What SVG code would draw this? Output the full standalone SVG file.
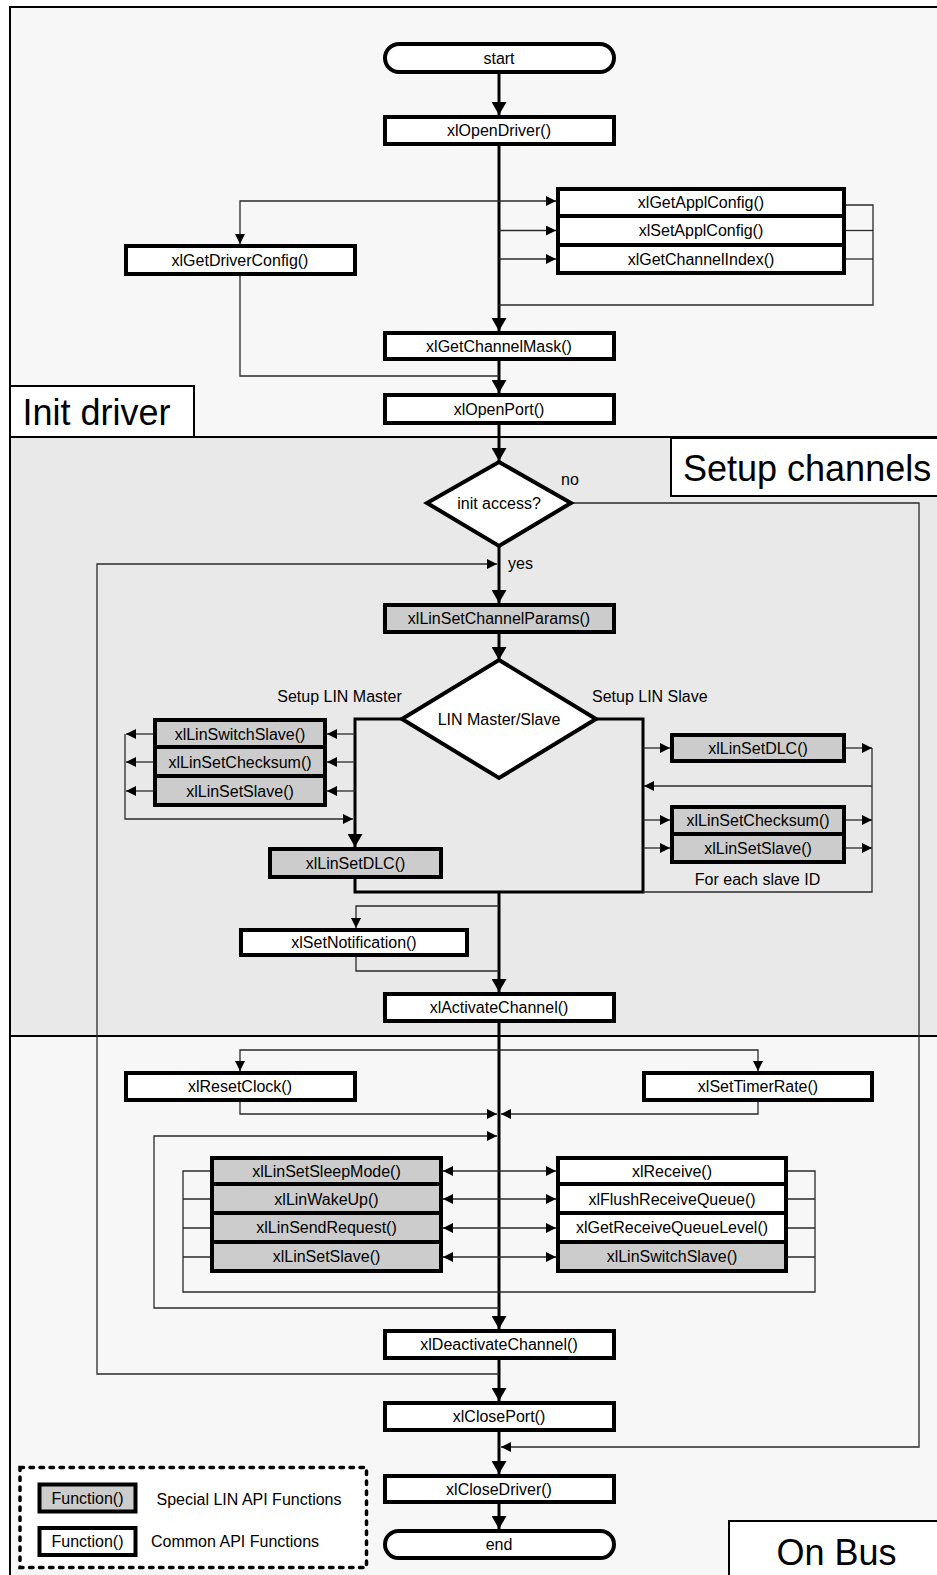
<svg xmlns="http://www.w3.org/2000/svg" width="937" height="1575" viewBox="0 0 937 1575">
<style>
text{font-family:"Liberation Sans",Arial,sans-serif;font-size:16px;fill:#000}
.c{text-anchor:middle}
.big{font-size:36px}
.box{fill:#fff;stroke:#000;stroke-width:4}
.lin{fill:#cccccc;stroke:#000;stroke-width:4}
.sec{stroke:#000;stroke-width:2}
.thick{fill:none;stroke:#000;stroke-width:3}
.thin{fill:none;stroke:#2a2a2a;stroke-width:1.3}
</style>
<defs>
<marker id="ab" viewBox="0 0 13 15" refX="13" refY="7.5" markerWidth="13" markerHeight="15" markerUnits="userSpaceOnUse" orient="auto"><path d="M0,0 L13,7.5 L0,15 z" fill="#000"/></marker>
<marker id="as" viewBox="0 0 10 10" refX="10" refY="5" markerWidth="10" markerHeight="10" markerUnits="userSpaceOnUse" orient="auto-start-reverse"><path d="M0,0 L10,5 L0,10 z" fill="#000"/></marker>
</defs>

<g id="sections">
<rect x="10" y="7" width="940" height="430" fill="#f7f7f7" class="sec"/>
<rect x="10" y="437" width="940" height="599" fill="#e9e9e9" class="sec"/>
<rect x="10" y="1036" width="940" height="560" fill="#f7f7f7" class="sec"/>
</g>

<g id="connectors">
<!-- main thick flow -->
<path class="thick" d="M499,74 V115" marker-end="url(#ab)"/>
<path class="thick" d="M499,146 V331" marker-end="url(#ab)"/>
<path class="thick" d="M499,361 V393" marker-end="url(#ab)"/>
<path class="thick" d="M499,425 V461" marker-end="url(#ab)"/>
<path class="thick" d="M499,546 V603" marker-end="url(#ab)"/>
<path class="thick" d="M499,634 V660" marker-end="url(#ab)"/>
<path class="thick" d="M402,719 H355 V847" marker-end="url(#ab)"/>
<path class="thick" d="M596,719 H643 V892 H355 V879"/>
<path class="thick" d="M499,892 V992" marker-end="url(#ab)"/>
<path class="thick" d="M499,1023 V1329" marker-end="url(#ab)"/>
<path class="thick" d="M499,1360 V1401" marker-end="url(#ab)"/>
<path class="thick" d="M499,1432 V1474" marker-end="url(#ab)"/>
<path class="thick" d="M499,1504 V1529" marker-end="url(#ab)"/>

<!-- init driver branches -->
<path class="thin" d="M499,201 H240 V244" marker-end="url(#as)"/>
<path class="thin" d="M499,201 H556" marker-end="url(#as)"/>
<path class="thin" d="M499,230.5 H556" marker-end="url(#as)"/>
<path class="thin" d="M499,259 H556" marker-end="url(#as)"/>
<path class="thin" d="M846,205 H873 V305 H499"/>
<path class="thin" d="M846,230.5 H873"/>
<path class="thin" d="M846,259 H873"/>
<path class="thin" d="M240,276 V376 H499"/>

<!-- no / yes loops -->
<path class="thin" d="M571,503 H919 V1447 H501" marker-end="url(#as)"/>
<path class="thin" d="M499,1374 H97 V564 H497" marker-end="url(#as)"/>

<!-- master side -->
<path class="thin" d="M355,734 H327" marker-end="url(#as)"/>
<path class="thin" d="M355,762 H327" marker-end="url(#as)"/>
<path class="thin" d="M355,791 H327" marker-end="url(#as)"/>
<path class="thin" d="M153,734 H126" marker-end="url(#as)"/>
<path class="thin" d="M153,762 H126" marker-end="url(#as)"/>
<path class="thin" d="M153,791 H126" marker-end="url(#as)"/>
<path class="thin" d="M125,734 V819 H353" marker-end="url(#as)"/>

<!-- slave side -->
<path class="thin" d="M643,748 H670" marker-end="url(#as)"/>
<path class="thin" d="M846,748 H872" marker-end="url(#as)"/>
<path class="thin" d="M872,748 V892 H643"/>
<path class="thin" d="M872,786 H644" marker-end="url(#as)"/>
<path class="thin" d="M643,820 H670" marker-end="url(#as)"/>
<path class="thin" d="M643,848 H670" marker-end="url(#as)"/>
<path class="thin" d="M846,820 H872" marker-end="url(#as)"/>
<path class="thin" d="M846,848 H872" marker-end="url(#as)"/>

<!-- notification -->
<path class="thin" d="M499,906 H356 V928" marker-end="url(#as)"/>
<path class="thin" d="M356,957 V971 H499"/>

<!-- on bus -->
<path class="thin" d="M499,1050 H240 V1071" marker-end="url(#as)"/>
<path class="thin" d="M499,1050 H758 V1071" marker-end="url(#as)"/>
<path class="thin" d="M240,1102 V1114 H497" marker-end="url(#as)"/>
<path class="thin" d="M758,1102 V1114 H501" marker-end="url(#as)"/>
<path class="thin" d="M499,1308 H154 V1136 H497" marker-end="url(#as)"/>
<path class="thin" d="M210,1171 H183 V1292 H815 V1171 H788"/>
<path class="thin" d="M210,1199 H183 M210,1228 H183 M210,1257 H183"/>
<path class="thin" d="M788,1199 H815 M788,1228 H815 M788,1257 H815"/>
<path class="thin" d="M443,1171 H556" marker-start="url(#as)" marker-end="url(#as)"/>
<path class="thin" d="M443,1199 H556" marker-start="url(#as)" marker-end="url(#as)"/>
<path class="thin" d="M443,1228 H556" marker-start="url(#as)" marker-end="url(#as)"/>
<path class="thin" d="M443,1257 H556" marker-start="url(#as)" marker-end="url(#as)"/>
</g>

<g id="label-init-driver"><rect x="10" y="386" width="184" height="51" fill="#fff" class="sec"/><text class="big" x="22.5" y="424.5">Init driver</text></g>
<g id="label-setup-channels"><rect x="671" y="438" width="280" height="58" fill="#fff" class="sec"/><text class="big" x="683" y="481">Setup channels</text></g>
<g id="label-on-bus"><rect x="729" y="1521" width="230" height="70" fill="#fff" class="sec"/><text class="big" x="776.5" y="1565">On Bus</text></g>

<g id="start"><rect x="385" y="44" width="229" height="28" rx="14" class="box"/><text class="c" x="499" y="63.5">start</text></g>
<g id="xlOpenDriver"><rect x="385" y="117" width="229" height="27" class="box"/><text class="c" x="499" y="136">xlOpenDriver()</text></g>
<g id="xlGetDriverConfig"><rect x="126" y="246" width="229" height="28" class="box"/><text class="c" x="240" y="265.5">xlGetDriverConfig()</text></g>
<g id="xlGetApplConfig"><rect x="558" y="189" width="286" height="27" class="box"/><text class="c" x="701" y="208">xlGetApplConfig()</text></g>
<g id="xlSetApplConfig"><rect x="558" y="216" width="286" height="29" class="box"/><text class="c" x="701" y="236">xlSetApplConfig()</text></g>
<g id="xlGetChannelIndex"><rect x="558" y="245" width="286" height="28" class="box"/><text class="c" x="701" y="265">xlGetChannelIndex()</text></g>
<g id="xlGetChannelMask"><rect x="385" y="333" width="229" height="26" class="box"/><text class="c" x="499" y="351.5">xlGetChannelMask()</text></g>
<g id="xlOpenPort"><rect x="385" y="395" width="229" height="28" class="box"/><text class="c" x="499" y="414.5">xlOpenPort()</text></g>

<g id="initAccess"><path d="M499,462 L571,503 L499,546 L427,503 Z" class="box"/><text class="c" x="499" y="508.5">init access?</text></g>
<g id="label-no"><text x="561" y="484.5">no</text></g>
<g id="label-yes"><text x="508" y="569">yes</text></g>

<g id="xlLinSetChannelParams"><rect x="385" y="605" width="229" height="27" class="lin"/><text class="c" x="499" y="624">xlLinSetChannelParams()</text></g>
<g id="linMasterSlave"><path d="M499,660 L596,719 L499,778 L402,719 Z" class="box"/><text class="c" x="499" y="724.5">LIN Master/Slave</text></g>
<g id="label-setup-master"><text class="c" x="339.5" y="702">Setup LIN Master</text></g>
<g id="label-setup-slave"><text x="592" y="702">Setup LIN Slave</text></g>

<g id="m-xlLinSwitchSlave"><rect x="155" y="720" width="170" height="27" class="lin"/><text class="c" x="240" y="739.5">xlLinSwitchSlave()</text></g>
<g id="m-xlLinSetChecksum"><rect x="155" y="747" width="170" height="29" class="lin"/><text class="c" x="240" y="767.5">xlLinSetChecksum()</text></g>
<g id="m-xlLinSetSlave"><rect x="155" y="776" width="170" height="29" class="lin"/><text class="c" x="240" y="796.5">xlLinSetSlave()</text></g>
<g id="m-xlLinSetDLC"><rect x="270" y="849" width="171" height="28" class="lin"/><text class="c" x="355.5" y="868.5">xlLinSetDLC()</text></g>

<g id="s-xlLinSetDLC"><rect x="672" y="735" width="172" height="26" class="lin"/><text class="c" x="758" y="753.5">xlLinSetDLC()</text></g>
<g id="s-xlLinSetChecksum"><rect x="672" y="807" width="172" height="27" class="lin"/><text class="c" x="758" y="825.5">xlLinSetChecksum()</text></g>
<g id="s-xlLinSetSlave"><rect x="672" y="834" width="172" height="28" class="lin"/><text class="c" x="758" y="853.5">xlLinSetSlave()</text></g>
<g id="label-each-slave"><text class="c" x="757.5" y="885">For each slave ID</text></g>

<g id="xlSetNotification"><rect x="241" y="930" width="226" height="25" class="box"/><text class="c" x="354" y="948">xlSetNotification()</text></g>
<g id="xlActivateChannel"><rect x="385" y="994" width="229" height="27" class="box"/><text class="c" x="499" y="1013">xlActivateChannel()</text></g>

<g id="xlResetClock"><rect x="126" y="1073" width="229" height="27" class="box"/><text class="c" x="240" y="1092">xlResetClock()</text></g>
<g id="xlSetTimerRate"><rect x="644" y="1073" width="228" height="27" class="box"/><text class="c" x="758" y="1092">xlSetTimerRate()</text></g>

<g id="xlLinSetSleepMode"><rect x="212" y="1158" width="229" height="26" class="lin"/><text class="c" x="326.5" y="1176.5">xlLinSetSleepMode()</text></g>
<g id="xlLinWakeUp"><rect x="212" y="1184" width="229" height="29" class="lin"/><text class="c" x="326.5" y="1204.5">xlLinWakeUp()</text></g>
<g id="xlLinSendRequest"><rect x="212" y="1213" width="229" height="29" class="lin"/><text class="c" x="326.5" y="1233">xlLinSendRequest()</text></g>
<g id="l-xlLinSetSlave"><rect x="212" y="1242" width="229" height="29" class="lin"/><text class="c" x="326.5" y="1262">xlLinSetSlave()</text></g>

<g id="xlReceive"><rect x="558" y="1158" width="228" height="26" class="box"/><text class="c" x="672" y="1176.5">xlReceive()</text></g>
<g id="xlFlushReceiveQueue"><rect x="558" y="1184" width="228" height="29" class="box"/><text class="c" x="672" y="1204.5">xlFlushReceiveQueue()</text></g>
<g id="xlGetReceiveQueueLevel"><rect x="558" y="1213" width="228" height="29" class="box"/><text class="c" x="672" y="1233">xlGetReceiveQueueLevel()</text></g>
<g id="r-xlLinSwitchSlave"><rect x="558" y="1242" width="228" height="29" class="lin"/><text class="c" x="672" y="1262">xlLinSwitchSlave()</text></g>

<g id="xlDeactivateChannel"><rect x="385" y="1331" width="229" height="27" class="box"/><text class="c" x="499" y="1350">xlDeactivateChannel()</text></g>
<g id="xlClosePort"><rect x="385" y="1403" width="229" height="27" class="box"/><text class="c" x="499" y="1422">xlClosePort()</text></g>
<g id="xlCloseDriver"><rect x="385" y="1476" width="229" height="26" class="box"/><text class="c" x="499" y="1494.5">xlCloseDriver()</text></g>
<g id="end"><rect x="385" y="1531" width="229" height="27" rx="13.5" class="box"/><text class="c" x="499" y="1550">end</text></g>

<g id="legend">
<rect x="20" y="1467.5" width="346.5" height="100" fill="#fff" stroke="#000" stroke-width="3.5" stroke-dasharray="3.5,6.5" stroke-linecap="round"/>
<rect x="39.5" y="1484.5" width="96" height="27" class="lin"/><text class="c" x="87.5" y="1503.5">Function()</text>
<text x="156.5" y="1504.5">Special LIN API Functions</text>
<rect x="39.5" y="1528" width="96" height="27" class="box"/><text class="c" x="87.5" y="1546.5">Function()</text>
<text x="151" y="1546.5">Common API Functions</text>
</g>
</svg>
